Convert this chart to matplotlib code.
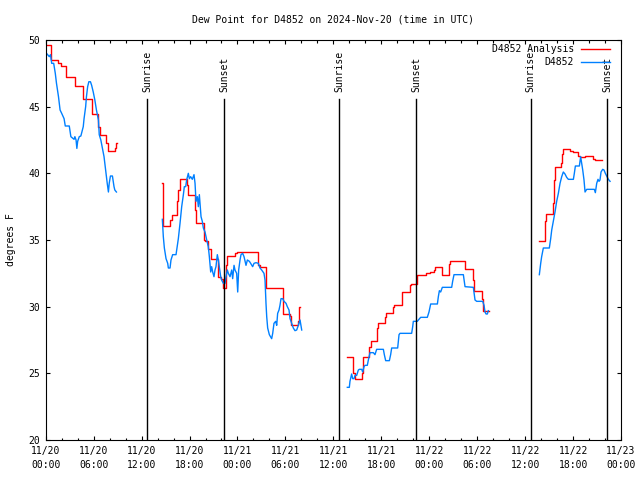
import numpy as np
import matplotlib
matplotlib.use("Agg")
import matplotlib.pyplot as plt
from matplotlib.ticker import FixedLocator, MultipleLocator

nan = np.nan

title = "Dew Point for D4852 on 2024-Nov-20 (time in UTC)"
ylabel = "degrees F"
analysis_label = "D4852 Analysis"
obs_label = "D4852"

# x axis: hours since 2024-11-20 00:00 UTC
xtick_hours = [0, 6, 12, 18, 24, 30, 36, 42, 48, 54, 60, 66, 72]
xtick_dates = ["11/20", "11/20", "11/20", "11/20", "11/21", "11/21", "11/21",
               "11/21", "11/22", "11/22", "11/22", "11/22", "11/23"]
xtick_times = ["00:00", "06:00", "12:00", "18:00", "00:00", "06:00", "12:00",
               "18:00", "00:00", "06:00", "12:00", "18:00", "00:00"]
yticks = [20, 25, 30, 35, 40, 45, 50]

sun_event_hours = [12.72, 22.32, 36.75, 46.35, 60.7, 70.3]
sun_event_names = ["Sunrise", "Sunset", "Sunrise", "Sunset", "Sunrise", "Sunset"]

# Analysis (red) - change points of the step series, nan marks the end of a segment
analysis_hours = [
    0.1, 0.66, 1.6, 1.9, 2.6, 3.7, 4.7, 5.75, 6.6, 6.8, 7.6, 7.8, 8.55, 8.7, 8.85, 8.9,
    14.6, 14.65, 15.6, 15.85, 16.4, 16.55, 16.75, 17.65, 17.85, 18.7, 18.85, 19.75, 19.95,
    20.35, 20.75, 21.6, 21.9, 22.15, 22.6, 22.7, 23.7, 23.9, 26.6, 26.8, 27.55, 29.65,
    29.75, 30.6, 30.75, 31.6, 31.7, 31.8,
    37.75, 38.42, 38.7, 39.55, 39.65, 40.5, 40.7, 41.5, 41.65, 42.47, 42.65, 43.5, 43.65,
    44.56, 45.6, 45.75, 46.5, 47.6, 48.1, 48.6, 48.72, 49.6, 50.5, 50.65, 51.56, 52.5,
    53.52, 53.65, 54.57, 54.7, 55.52,
    61.74, 62.49, 62.6, 63.45, 63.6, 63.7, 64.5, 64.62, 64.75, 65.62, 66.03, 66.58, 66.87,
    67.5, 68.54, 68.8, 69.58,
]
analysis_values = [
    49.6, 48.5, 48.3, 48.05, 47.25, 46.55, 45.6, 44.45, 43.5, 42.9, 42.25, 41.65, 41.65, 41.9, 42.25, nan,
    39.25, 36.05, 36.5, 36.9, 37.9, 38.75, 39.6, 39.1, 38.4, 37.25, 36.3, 35.0, 34.9,
    34.3, 33.6, 32.25, 32.1, 31.4, 33.1, 33.8, 34.0, 34.1, 33.1, 32.95, 31.4, 30.6,
    29.45, 29.3, 28.6, 28.9, 30.0, nan,
    26.2, 25.0, 24.6, 25.0, 26.25, 27.0, 27.4, 28.4, 28.75, 29.25, 29.5, 30.0, 30.1,
    31.1, 31.6, 31.7, 32.4, 32.5, 32.6, 32.75, 32.95, 32.4, 33.2, 33.45, 33.4, 32.8,
    32.0, 31.2, 30.6, 29.7, nan,
    34.9, 36.4, 36.95, 37.75, 39.5, 40.45, 40.75, 41.45, 41.8, 41.7, 41.6, 41.3, 41.25,
    41.3, 41.1, 41.0, nan,
]

# Observations (blue), nan separates the segments
obs_hours = [
    0.1, 0.45, 0.6, 0.75, 1.0, 1.2, 1.35, 1.6, 1.8, 2.0, 2.3, 2.45, 2.95, 3.15, 3.55, 3.65,
    3.8, 3.9, 4.0, 4.2, 4.4, 4.7, 4.8, 5.0, 5.1, 5.25, 5.4, 5.6, 5.75, 5.95, 6.15, 6.35,
    6.6, 6.7, 6.9, 7.1, 7.3, 7.4, 7.55, 7.7, 7.85, 7.95, 8.1, 8.35, 8.55, 8.65, 8.85, nan,
    14.6, 14.72, 14.85, 15.06, 15.27, 15.35, 15.56, 15.68, 15.89, 16.31, 16.43, 16.6, 16.81,
    17.02, 17.23, 17.35, 17.52, 17.64, 17.85, 17.98, 18.14, 18.35, 18.56, 18.69, 18.81,
    18.98, 19.1, 19.23, 19.31, 19.44, 19.6, 19.73, 19.94, 20.15, 20.35, 20.48, 20.65, 20.77,
    20.9, 21.06, 21.19, 21.31, 21.48, 21.61, 21.73, 21.9, 22.02, 22.23, 22.44, 22.57, 22.73,
    22.86, 23.07, 23.28, 23.4, 23.57, 23.69, 23.9, 24.03, 24.15, 24.32, 24.44, 24.65, 24.82,
    25.07, 25.24, 25.49, 25.65, 25.9, 26.07, 26.32, 26.61, 26.82, 27.03, 27.32, 27.45, 27.57,
    27.66, 27.78, 27.99, 28.28, 28.41, 28.57, 28.78, 28.91, 29.03, 29.2, 29.32, 29.45, 29.66,
    29.83, 30.08, 30.24, 30.45, 30.58, 30.78, 30.99, 31.2, 31.41, 31.62, 31.83, 32.04, nan,
    37.75, 38.0, 38.08, 38.29, 38.42, 38.59, 38.71, 38.92, 39.13, 39.25, 39.55, 39.67, 39.84,
    39.96, 40.25, 40.38, 40.59, 41.01, 41.21, 41.42, 42.26, 42.38, 42.55, 43.01, 43.17, 43.3,
    44.05, 44.22, 44.34, 45.8, 45.93, 46.01, 46.51, 46.64, 46.93, 47.76, 47.97, 48.18, 49.02,
    49.14, 49.27, 49.43, 49.64, 50.81, 50.93, 51.1, 52.27, 52.48, 53.52, 53.73, 53.94, 54.69,
    54.86, 54.98, 55.11, 55.27, 55.4, nan,
    61.78, 61.95, 62.07, 62.28, 63.03, 63.2, 63.33, 63.53, 63.74, 63.95, 64.16, 64.37, 64.58,
    64.78, 64.99, 65.2, 65.41, 66.04, 66.16, 66.29, 66.79, 66.95, 67.08, 67.21, 67.37, 67.5,
    67.71, 68.66, 68.79, 68.96, 69.12, 69.25, 69.37, 69.5, 69.71, 69.87, 70.04, 70.21, 70.42,
    70.63,
]
obs_values = [
    49.0, 48.75, 48.9, 48.25, 48.25, 47.5, 46.75, 45.75, 44.75, 44.5, 44.1, 43.55, 43.55, 42.75, 42.55, 42.75,
    42.5, 41.87, 42.4, 42.75, 42.8, 43.5, 44.1, 45.0, 45.75, 46.5, 46.87, 46.87, 46.6, 46.1, 45.5, 44.75,
    44.0, 42.9, 42.5, 41.87, 41.25, 40.75, 40.0, 39.25, 38.6, 39.25, 39.8, 39.8, 39.0, 38.75, 38.6, nan,
    36.55, 35.25, 34.4, 33.6, 33.25, 32.9, 32.9, 33.5, 33.9, 33.9, 34.4, 35.1, 36.25,
    37.5, 38.4, 39.0, 39.0, 39.5, 40.0, 39.6, 39.75, 39.55, 39.9, 39.25, 37.9,
    38.25, 37.5, 38.4, 37.75, 36.75, 36.4, 35.9, 35.6, 35.0, 34.5, 33.75, 32.6, 33.0,
    32.6, 32.25, 32.75, 33.0, 33.9, 33.5, 33.0, 32.25, 32.0, 31.75, 31.75, 32.25, 32.75,
    32.5, 32.25, 32.75, 32.1, 33.1, 32.75, 32.5, 31.1, 32.75, 33.5, 33.9, 34.0, 33.75,
    33.1, 33.5, 33.4, 33.25, 33.0, 33.25, 33.3, 33.25, 32.9, 32.75, 32.5, 32.0, 30.25,
    29.25, 28.4, 27.9, 27.6, 28.0, 28.75, 28.9, 28.6, 29.5, 29.75, 30.1, 30.6, 30.6,
    30.4, 30.25, 30.0, 29.75, 29.1, 28.75, 28.4, 28.2, 28.25, 28.6, 29.0, 28.25, nan,
    23.95, 23.95, 24.4, 24.95, 24.6, 24.6, 24.85, 24.85, 25.25, 25.3, 25.3, 25.1, 25.5,
    25.6, 25.6, 26.0, 26.55, 26.55, 26.4, 26.8, 26.8, 26.4, 25.95, 25.95, 26.4, 26.9,
    26.9, 27.9, 28.0, 28.0, 28.5, 28.9, 28.9, 29.0, 29.2, 29.2, 29.6, 30.2, 30.2,
    30.75, 31.2, 31.1, 31.45, 31.45, 31.9, 32.4, 32.4, 31.5, 31.45, 30.5, 30.4, 30.4,
    30.1, 29.6, 29.45, 29.45, 29.7, nan,
    32.4, 33.25, 33.75, 34.4, 34.4, 35.1, 35.75, 36.4, 37.1, 37.9, 38.5, 39.25, 39.75,
    40.1, 39.95, 39.7, 39.55, 39.55, 40.0, 40.55, 40.55, 41.25, 40.75, 40.25, 39.5, 38.6,
    38.8, 38.8, 38.55, 39.25, 39.55, 39.4, 39.5, 40.1, 40.3, 40.25, 40.0, 39.8, 39.55,
    39.4,
]

FONT = "DejaVu Sans Mono"
FS = 7
plt.rcParams["font.family"] = FONT

fig = plt.figure(figsize=(6.4, 4.8), dpi=100)
W, H = 640, 480
ax = fig.add_axes([45.7 / W, 40 / H, (621 - 45.7) / W, 400 / H])

ax.plot(analysis_hours, analysis_values, color="#ff0000", lw=1.0,
        drawstyle="steps-post", label=analysis_label)
ax.plot(obs_hours, obs_values, color="#0080ff", lw=1.0, label=obs_label)

sun_line_top = 45.6
for h, name in zip(sun_event_hours, sun_event_names):
    ax.plot([h, h], [20, sun_line_top], color="black", lw=1.0)
    ax.text(h, 46.1, name, rotation=90, ha="center", va="bottom", fontsize=FS,
            color="black")

ax.set_xlim(0, 72)
ax.set_ylim(20, 50)
ax.xaxis.set_major_locator(FixedLocator(xtick_hours))
ax.xaxis.set_minor_locator(MultipleLocator(2))
ax.set_xticklabels([f"{d}\n{t}" for d, t in zip(xtick_dates, xtick_times)],
                   fontsize=FS, linespacing=1.45)
ax.set_yticks(yticks)
ax.set_yticklabels([str(v) for v in yticks], fontsize=FS)

ax.tick_params(axis="both", which="major", direction="in", length=3.0, width=0.8,
               top=True, right=True, colors="black")
ax.tick_params(axis="x", which="major", pad=4.5)
ax.tick_params(axis="y", which="major", pad=4)
ax.tick_params(axis="x", which="minor", direction="in", length=1.8, width=0.8,
               top=True, bottom=True)
for s in ax.spines.values():
    s.set_linewidth(0.8)
    s.set_color("black")

fig.text(333 / W, 1 - 20 / H, title, ha="center", va="center", fontsize=FS)
fig.text(11 / W, 1 - 240 / H, ylabel, rotation=90, ha="center", va="center",
         fontsize=FS)

ax.legend(loc="upper right", bbox_to_anchor=(0.981, 0.99), markerfirst=False,
          frameon=False, fontsize=FS, handlelength=3.0, handletextpad=0.7,
          labelspacing=0.35, borderpad=0, borderaxespad=0)

fig.savefig("out.png", dpi=100)
